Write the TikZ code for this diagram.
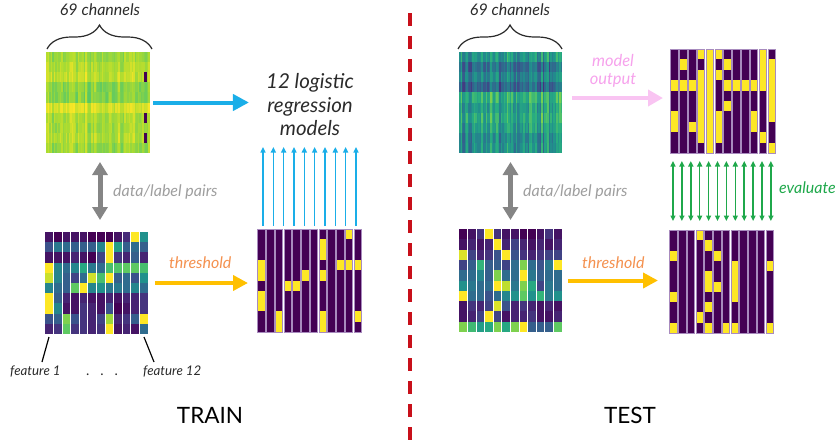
\documentclass[tikz,border=0pt]{standalone}
\usepackage{fontspec}
\setmainfont{Lato}
\usetikzlibrary{arrows.meta,decorations.pathreplacing,calc}

% viridis anchors, 1/8 apart
\definecolor{vir0}{HTML}{440154}
\definecolor{vir1}{HTML}{472D7B}
\definecolor{vir2}{HTML}{3B528B}
\definecolor{vir3}{HTML}{2C728E}
\definecolor{vir4}{HTML}{21918C}
\definecolor{vir5}{HTML}{28AE80}
\definecolor{vir6}{HTML}{5EC962}
\definecolor{vir7}{HTML}{ADDC30}
\definecolor{vir8}{HTML}{FDE725}
\definecolor{yel}{HTML}{FDE725}
\definecolor{pur}{HTML}{440154}
\definecolor{lav}{HTML}{A88BBE}
\definecolor{arrowblue}{HTML}{1AAEE8}
\definecolor{arrowgold}{HTML}{FFC000}
\definecolor{textorange}{HTML}{F4914F}
\definecolor{arrowpink}{HTML}{F9C4F2}
\definecolor{textpink}{HTML}{F6A2EC}
\definecolor{evalgreen}{HTML}{1FA84B}
\definecolor{pairgray}{HTML}{858585}
\definecolor{labelgray}{HTML}{9E9E9E}
\definecolor{splitred}{HTML}{C8101A}
\definecolor{inkgray}{HTML}{2B2B2B}

% sets colour vircell to the viridis value of #1 (0..1)
\newcommand\virset[1]{%
  \pgfmathsetmacro\virv{max(0,min(0.9999,#1))*8}%
  \pgfmathtruncatemacro\virk{\virv}%
  \pgfmathtruncatemacro\virp{round((\virv-\virk)*100)}%
  \pgfmathtruncatemacro\virn{\virk+1}%
  \colorlet{vircell}{vir\virn!\virp!vir\virk}%
}

% 69-channel map: name, x, y, width, height, seed, row levels, column spread, cell spread
\newcommand\stripmap[9]{%
  \node[gridbox, minimum width=#4pt, minimum height=#5pt, anchor=north west] (#1) at (#2,#3) {};
  \pgfmathsetseed{#6}%
  \foreach \ci in {0,...,68}{\pgfmathsetmacro\cnzval{rnd}\expandafter\xdef\csname colnz\ci\endcsname{\cnzval}}%
  \pgfmathsetmacro\gcw{#4/69}%
  \pgfmathsetmacro\grh{#5/10}%
  \foreach \ri in {0,...,9}{%
    \pgfmathsetmacro\rowbase{{#7}[\ri]}%
    \foreach \ci in {0,...,68}{%
      \expandafter\let\expandafter\cnz\csname colnz\ci\endcsname
      \pgfmathsetmacro\cellv{\rowbase+#8*(\cnz-0.5)+#9*(rnd-0.5)}%
      \virset{\cellv}%
      \fill[vircell] ({#2+\ci*\gcw},{#3+\ri*\grh}) rectangle ({#2+(\ci+1)*\gcw+0.25},{#3+(\ri+1)*\grh+0.25});
    }%
  }%
}

% 12-feature value grid: name, x, y, width, height, rows of values
\newcommand\valuegrid[6]{%
  \node[gridbox, minimum width=#4pt, minimum height=#5pt, anchor=north west] (#1) at (#2,#3) {};
  \pgfmathsetmacro\gcw{#4/12}%
  \pgfmathsetmacro\grh{#5/10}%
  \foreach \rowvals [count=\ri from 0] in {#6}{%
    \foreach \v [count=\ci from 0] in \rowvals {%
      \virset{\v}%
      \fill[vircell] ({#2+\ci*\gcw},{#3+\ri*\grh}) rectangle ({#2+(\ci+1)*\gcw},{#3+(\ri+1)*\grh+0.3});
    }%
  }%
  \foreach \ci in {1,...,11}{\draw[white, line width=1.1pt] ({#2+\ci*\gcw},#3) -- ({#2+\ci*\gcw},{#3+#5});}%
}

% 12-feature binary grid: name, x, y, width, height, yellow rows per column (-1 = none)
\newcommand\binarygrid[6]{%
  \node[gridbox, minimum width=#4pt, minimum height=#5pt, anchor=north west] (#1) at (#2,#3) {};
  \pgfmathsetmacro\gcw{#4/12}%
  \pgfmathsetmacro\grh{#5/10}%
  \foreach \ys [count=\ci from 0] in {#6}{%
    \pgfmathsetmacro\xa{#2+\ci*\gcw+0.7}%
    \pgfmathsetmacro\xb{#2+(\ci+1)*\gcw-0.7}%
    \fill[pur] (\xa,#3) rectangle (\xb,{#3+#5});
    \foreach \ri in \ys {\ifnum\ri>-1 \fill[yel] (\xa,{#3+\ri*\grh}) rectangle (\xb,{#3+(\ri+1)*\grh});\fi}%
    \draw[lav, line width=0.6pt] (\xa,#3) rectangle (\xb,{#3+#5});
  }%
}

\tikzset{
  gridbox/.style={inner sep=0pt, outer sep=0pt},
  fatblue/.style={draw=arrowblue, line width=4pt, -{Triangle[length=16pt,width=16pt]}},
  fatgold/.style={draw=arrowgold, line width=4pt, -{Triangle[length=15pt,width=15pt]}},
  fatpink/.style={draw=arrowpink, line width=4pt, -{Triangle[length=15pt,width=16pt]}},
  pairarrow/.style={draw=pairgray, line width=5pt, {Triangle[length=13pt,width=15pt]}-{Triangle[length=13pt,width=15pt]}},
  thinblue/.style={draw=arrowblue, line width=1.5pt, -{Triangle[length=5.5pt,width=5pt]}},
  thingreen/.style={draw=evalgreen, line width=1.5pt, {Triangle[length=5.5pt,width=5pt]}-{Triangle[length=5.5pt,width=5pt]}},
  lbl/.style={inner sep=0pt, font=\itshape\fontsize{16}{19}\selectfont},
  smalllbl/.style={inner sep=0pt, font=\itshape\fontsize{13.3}{16}\selectfont, text=inkgray},
  title/.style={inner sep=0pt, font=\fontsize{22.5}{26}\selectfont},
  chbrace/.style={decorate, decoration={brace, amplitude=24pt}, line width=1.2pt, inkgray},
  featline/.style={line width=1.2pt, black}
}

\begin{document}
\begin{tikzpicture}[x=1pt, y=-1pt]
\useasboundingbox (0,0) rectangle (837,442);

% ---------------- TRAIN ----------------
\stripmap{tlmap}{46}{52}{104}{101}{11}{0.86,0.89,0.91,0.83,0.82,0.95,0.88,0.87,0.89,0.85}{0.12}{0.06}
% missing channel marks
\foreach \ri in {2,6,8}{\fill[vir0] (143.5,{52+\ri*10.1}) rectangle (147,{52+(\ri+1)*10.1});}

\valuegrid{bldata}{45}{232}{103}{102}{
  {0.05,0.0,0.05,0.05,0.05,0.0,0.0,0.0,0.05,0.12,1.0,0.5},
  {0.25,0.4,0.35,0.3,0.3,0.3,0.45,1.0,0.55,0.3,0.35,0.3},
  {0.05,0.05,0.05,0.1,0.05,0.0,0.2,1.0,0.15,0.1,0.3,0.1},
  {1.0,0.45,0.35,0.45,0.6,0.4,0.35,0.7,0.72,0.75,0.75,0.7},
  {0.92,0.45,0.3,0.2,0.35,0.93,0.7,1.0,0.3,0.35,0.25,0.5},
  {0.45,0.35,0.3,0.75,1.0,0.45,0.5,0.4,0.4,0.35,0.45,0.35},
  {1.0,0.3,0.1,0.05,0.1,0.05,0.05,0.1,0.05,0.1,0.1,0.15},
  {1.0,0.45,0.05,0.05,0.15,0.1,0.05,0.25,0.0,0.05,0.1,0.15},
  {0.25,0.3,0.8,0.25,0.15,0.1,0.2,0.85,0.1,0.15,0.3,1.0},
  {0.1,0.15,0.75,0.15,0.15,0.1,0.15,1.0,0.05,0.1,0.05,0.35}}

\binarygrid{trainthr}{257}{229}{105}{103}{{3,4,6,7},{-1},{8,9},{5},{5},{4},{-1},{1,2,4,8,9},{-1},{3},{0,3},{3,8}}

\draw[chbrace] (47,49) -- (152,49);
\node[lbl, anchor=base, text=inkgray] (chleft) at (100,15) {69 channels};

\node[inner sep=0pt, align=center, text=inkgray, font=\itshape\fontsize{20.5}{23.5}\selectfont] (models) at (310,105) {12 logistic\\regression\\models};

\draw[fatblue] ([xshift=3pt]tlmap.east) -- ([xshift=-17pt]tlmap.east -| models.west);

\draw[pairarrow] ([xshift=2pt,yshift=-9pt]tlmap.south) -- ([xshift=3.5pt,yshift=12pt]bldata.north);
\node[lbl, anchor=base west, text=labelgray] (pairsleft) at (113,196) {data/label pairs};

\draw[fatgold] ([xshift=7pt]bldata.east) -- ([xshift=-9pt]trainthr.west |- bldata.east);
\node[lbl, anchor=base west, text=textorange] (thrleft) at (169,268) {threshold};

\foreach \k in {0,...,9}{
  \draw[thinblue] ([xshift={(6+\k*10.33)*1pt}, yshift=3pt]trainthr.north west) -- ++(0,-79);
}

\node[smalllbl, anchor=base west] (feat1) at (10,375) {feature 1};
\node[smalllbl, anchor=base west] (feat12) at (143,375) {feature 12};
\node[inner sep=0pt, anchor=base, font=\fontsize{14}{16}\selectfont, text=inkgray] (featdots) at (102,375) {.\hspace{11pt}.\hspace{11pt}.};
\coordinate (f1tip) at (42,362);
\coordinate (f12tip) at (154,362);
\draw[featline] ([shift={(4,3)}]bldata.south west) -- (f1tip);
\draw[featline] ([shift={(-4,3)}]bldata.south east) -- (f12tip);

\node[title] (train) at (210,415) {TRAIN};

% ---------------- divider ----------------
\coordinate (divtop) at (410,13);
\coordinate (divbot) at (410,442);
\draw[splitred, line width=3.5pt, dash pattern=on 13pt off 10pt] (divtop) -- (divbot);

% ---------------- TEST ----------------
\stripmap{trmap}{459}{52}{103}{101}{5}{0.52,0.36,0.45,0.33,0.63,0.55,0.6,0.55,0.47,0.5}{0.3}{0.1}

\valuegrid{brdata}{459}{229}{103}{103}{
  {0.0,0.05,0.15,1.0,0.15,0.05,0.05,0.0,0.0,0.05,0.15,0.05},
  {0.05,0.1,0.05,0.1,1.0,0.1,0.2,0.1,0.05,0.1,0.05,0.1},
  {0.95,0.2,0.1,0.15,0.25,1.0,0.25,0.15,0.1,0.15,0.2,0.2},
  {0.2,0.3,0.65,0.3,0.3,0.2,0.35,0.8,0.35,0.25,0.4,1.0},
  {0.35,0.35,0.45,0.3,0.8,0.35,0.35,1.0,0.4,0.3,0.35,0.35},
  {0.5,0.4,0.35,0.35,1.0,0.9,0.4,0.8,0.6,0.2,0.4,0.35},
  {1.0,0.35,0.35,0.25,0.35,0.45,0.5,0.75,0.5,0.65,0.4,0.5},
  {0.05,0.15,0.1,0.2,0.95,0.25,0.1,0.15,0.1,0.05,0.1,0.05},
  {0.05,0.1,0.2,1.0,0.2,0.05,0.1,0.1,0.15,0.05,0.05,0.1},
  {0.8,0.68,0.55,0.6,0.8,0.6,0.8,1.0,0.3,0.3,0.3,0.75}}

\binarygrid{testthr}{669}{230}{105}{103}{{2,6,9},{-1},{-1},{0,8},{1,4,5,7,9},{2,5},{9},{3,4,5,6,9},{-1},{-1},{-1},{3,9}}

\binarygrid{modelout}{670}{49}{106}{104}{{3,6,7},{1,3},{3,7},{0,2,3,4,5,6,7,8},{0,1,2,3,4,5,6,7,8,9},{0,2,6,7,8},{1,3,5},{3},{3},{3,6,7},{0,1,2,3,8},{1,2,3,4,5,6,9}}

\draw[chbrace] (458,49) -- (562,49);
\node[lbl, anchor=base, text=inkgray] (chright) at (510,15) {69 channels};

\coordinate (pinkstart) at ([xshift=10pt,yshift=4.5pt]trmap.east);
\draw[fatpink, shorten >=7pt] (pinkstart) -- (pinkstart -| modelout.west);
\node[lbl, align=center, text=textpink, font=\itshape\fontsize{16.5}{17.5}\selectfont] (outlbl) at (613,71) {model\\output};

\draw[pairarrow] ([yshift=-9pt]trmap.south) -- ([yshift=9pt]brdata.north);
\node[lbl, anchor=base west, text=labelgray] (pairsright) at (523,196) {data/label pairs};

\draw[fatgold] ([xshift=6pt]brdata.east) -- ([xshift=-11pt]testthr.west |- brdata.east);
\node[lbl, anchor=base west, text=textorange] (thrright) at (582,268) {threshold};

\foreach \k in {0,...,11}{
  \draw[thingreen] ([xshift={(3+\k*8.9)*1pt}, yshift=-8pt]modelout.south west) -- ([xshift={(4+\k*8.9)*1pt}, yshift=9pt]testthr.north west);
}
\node[lbl, anchor=base west, text=evalgreen] (evallbl) at (779,193) {evaluate};

\node[title] (test) at (630,415) {TEST};
\end{tikzpicture}
\end{document}
